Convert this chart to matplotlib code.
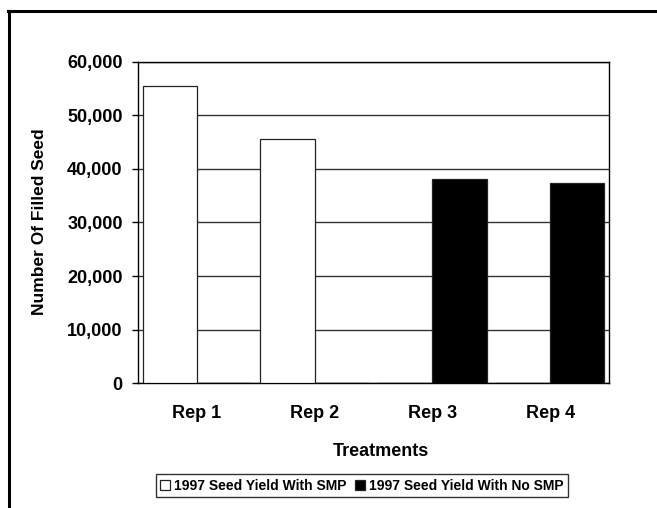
import matplotlib
matplotlib.use("Agg")
import matplotlib.pyplot as plt
from matplotlib.lines import Line2D
from matplotlib.ticker import FuncFormatter
import numpy as np

# data
reps = ["Rep 1", "Rep 2", "Rep 3", "Rep 4"]
with_smp = [55500, 45700, 0, 0]
no_smp = [0, 0, 38100, 37400]
series_names = ["1997 Seed Yield With SMP", "1997 Seed Yield With No SMP"]
yticks = [0, 10000, 20000, 30000, 40000, 50000, 60000]

plt.rcParams['font.family'] = ['Liberation Sans', 'DejaVu Sans']
plt.rcParams['font.weight'] = 'bold'

W, H = 657, 508
fig = plt.figure(figsize=(W / 100, H / 100), dpi=100)

# plot area in pixels: left 138, right 609, top 62, bottom 383
ax = fig.add_axes([138 / W, 1 - 383 / H, 471 / W, 321 / H])

x = np.arange(len(reps))
bw = 0.46
ax.bar(x - bw / 2, with_smp, bw, color="white", edgecolor="#222222", linewidth=0.9,
       label=series_names[0], zorder=3)
ax.bar(x + bw / 2, no_smp, bw, color="black", edgecolor="#222222", linewidth=0.9,
       label=series_names[1], zorder=3)

ax.set_xlim(-0.5, len(reps) - 0.5)
ax.set_ylim(0, 60000)
ax.set_yticks(yticks)
ax.yaxis.set_major_formatter(FuncFormatter(lambda v, p: f"{int(v):,}"))
ax.set_xticks(x)
ax.set_xticklabels(reps)

ax.yaxis.grid(True, color="#333333", linewidth=1.0, zorder=0)
for s in ax.spines.values():
    s.set_color("black")
    s.set_linewidth(1.0)

ax.tick_params(axis="y", direction="out", length=4.5, width=1, pad=6.5,
               labelsize=13, color="black")
ax.tick_params(axis="x", length=0, pad=15.5, labelsize=13)
for lab in ax.get_xticklabels() + ax.get_yticklabels():
    lab.set_fontweight("bold")

fig.text(381 / W, 1 - 451 / H, "Treatments", ha="center", va="center",
         fontsize=13, fontweight="bold")
fig.text(40 / W, 1 - 222 / H, "Number Of Filled Seed", ha="center", va="center",
         rotation=90, fontsize=12.5, fontweight="bold")

leg = fig.legend(loc="center", bbox_to_anchor=(362 / W, 1 - 485.5 / H), ncol=2,
                 frameon=True, fancybox=False, fontsize=10, handlelength=0.7,
                 handleheight=0.7, handletextpad=0.3, columnspacing=0.6,
                 borderpad=0.35, borderaxespad=0)
leg.get_frame().set_edgecolor("black")
leg.get_frame().set_linewidth(1.0)
for t in leg.get_texts():
    t.set_fontweight("bold")

# outer chart frame (left and top edges visible)
fig.add_artist(Line2D([8.5 / W, 8.5 / W], [0, 1 - 10.5 / H], color="black",
                      linewidth=2.2, transform=fig.transFigure))
fig.add_artist(Line2D([7.5 / W, 1], [1 - 10.5 / H, 1 - 10.5 / H], color="black",
                      linewidth=2.2, transform=fig.transFigure))

fig.savefig("out.png", dpi=100)
